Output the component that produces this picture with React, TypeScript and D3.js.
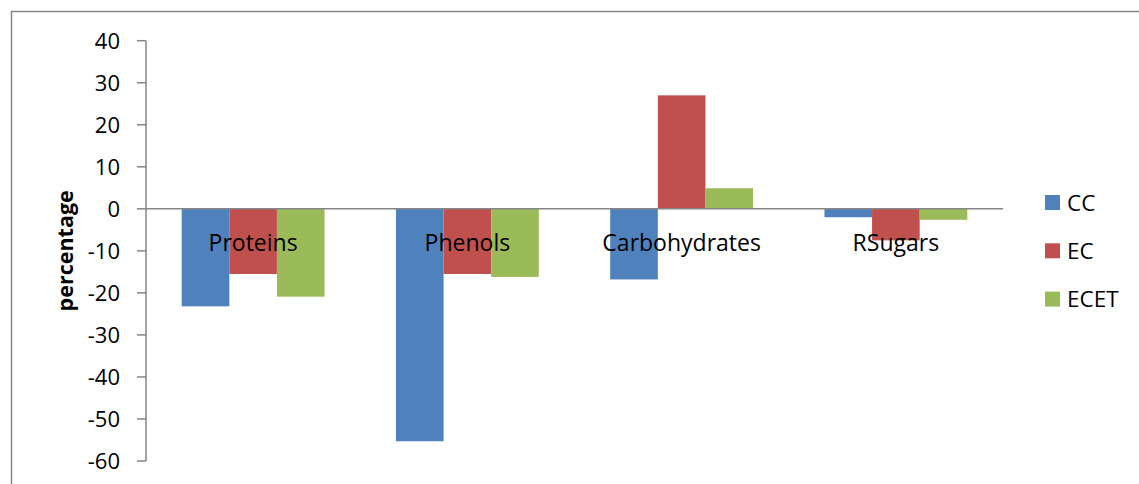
import React from "react";
import * as d3 from "d3";

const categories = ["Proteins", "Phenols", "Carbohydrates", "RSugars"];
const seriesNames = ["CC", "EC", "ECET"];
const ccValues = [-23.2, -55.3, -16.8, -2.0];
const ecValues = [-15.5, -15.5, 27.0, -7.5];
const ecetValues = [-20.9, -16.2, 4.9, -2.6];
const yTicks = [40, 30, 20, 10, 0, -10, -20, -30, -40, -50, -60];
const colors = ["#4F81BD", "#C0504D", "#9BBB59"];

const W = 1139;
const H = 484;
const FONT = "'Open Sans', 'Liberation Sans', sans-serif";

export default function App() {
  const values = [ccValues, ecValues, ecetValues];
  const x = d3.scaleBand<string>().domain(categories).range([146, 1003]).padding(0);
  const xs = d3
    .scaleBand<string>()
    .domain(seriesNames)
    .range([0, x.bandwidth()])
    .paddingInner(0)
    .paddingOuter(0.75);
  const y = d3.scaleLinear().domain([-60, 40]).range([461, 40.7]);
  const axisGray = "#868686";

  return (
    <svg
      width={W}
      height={H}
      style={{ position: "absolute", left: 0, top: 0, background: "#fff" }}
      fontFamily={FONT}
    >
      {/* outer chart frame */}
      <rect x={11.5} y={11.5} width={W + 20} height={H + 20} fill="#fff" stroke={axisGray} strokeWidth={1.5} />

      {/* bars */}
      {seriesNames.map((s, si) =>
        categories.map((c, ci) => {
          const v = values[si][ci];
          const x0 = (x(c) ?? 0) + (xs(s) ?? 0);
          const y0 = y(Math.max(0, v));
          const h = Math.abs(y(v) - y(0));
          return (
            <rect key={s + c} x={x0} y={y0} width={xs.bandwidth()} height={h} fill={colors[si]} />
          );
        })
      )}

      {/* zero line */}
      <line x1={146} x2={1003} y1={y(0)} y2={y(0)} stroke={axisGray} strokeWidth={1.5} />

      {/* y axis */}
      <line x1={146} x2={146} y1={y(40)} y2={y(-60)} stroke={axisGray} strokeWidth={1.5} />
      {yTicks.map((t) => (
        <g key={t}>
          <line x1={137} x2={146} y1={y(t)} y2={y(t)} stroke={axisGray} strokeWidth={1.5} />
          <text x={120} y={y(t)} dy="0.36em" textAnchor="end" fontSize={22} fill="#000">
            {t}
          </text>
        </g>
      ))}

      {/* category labels */}
      {categories.map((c) => (
        <text
          key={c}
          x={(x(c) ?? 0) + x.bandwidth() / 2}
          y={y(0) + 34}
          dy="0.36em"
          textAnchor="middle"
          fontSize={23}
          fill="#000"
        >
          {c}
        </text>
      ))}

      {/* y axis title */}
      <text
        transform={`translate(65,${y(0) + 42}) rotate(-90)`}
        dy="0.36em"
        textAnchor="middle"
        fontSize={21.5}
        fontWeight="bold"
        fill="#000"
      >
        percentage
      </text>

      {/* legend */}
      {seriesNames.map((s, i) => (
        <g key={s} transform={`translate(1045,${202.5 + i * 48.3})`}>
          <rect x={0} y={-7.5} width={15} height={15} fill={colors[i]} />
          <text x={22} y={0} dy="0.36em" fontSize={22.5} fill="#000">
            {s}
          </text>
        </g>
      ))}
    </svg>
  );
}
